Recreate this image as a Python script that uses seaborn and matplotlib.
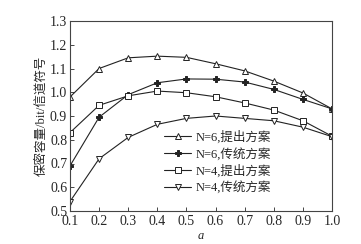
import seaborn as sns
import pandas as pd
import matplotlib.pyplot as plt

a = [0.1, 0.2, 0.3, 0.4, 0.5, 0.6, 0.7, 0.8, 0.9, 1.0]
n6_prop = [0.98, 1.10, 1.145, 1.152, 1.147, 1.12, 1.09, 1.047, 0.997, 0.93]
n6_trad = [0.69, 0.895, 0.99, 1.04, 1.056, 1.055, 1.043, 1.012, 0.97, 0.93]
n4_prop = [0.83, 0.945, 0.985, 1.005, 0.998, 0.981, 0.955, 0.925, 0.88, 0.815]
n4_trad = [0.54, 0.72, 0.81, 0.865, 0.89, 0.90, 0.89, 0.88, 0.853, 0.813]
labels = ['N=6,提出方案', 'N=6,传统方案', 'N=4,提出方案', 'N=4,传统方案']

sns.set_style('ticks')
plt.rcParams['font.family'] = ['Liberation Serif', 'Noto Sans CJK SC']
plt.rcParams['xtick.direction'] = 'in'
plt.rcParams['ytick.direction'] = 'in'

rows = []
for lab, vals in zip(labels, [n6_prop, n6_trad, n4_prop, n4_trad]):
    for x, y in zip(a, vals):
        rows.append({'a': x, 'cap': y, 'scheme': lab})
table = pd.DataFrame(rows)

fig = plt.figure(figsize=(3.61, 2.44), dpi=100)
ax = fig.add_axes([70 / 361, 33 / 244, 262 / 361, 190 / 244])

markers = dict(zip(labels, ['^', 'P', 's', 'v']))
sizes = {labels[0]: 5, labels[1]: 4, labels[2]: 5, labels[3]: 5}
for lab in labels:
    sub = table[table['scheme'] == lab]
    filled = lab == labels[1]
    sns.lineplot(data=sub, x='a', y='cap', ax=ax, color='#222222', lw=0.8,
                 marker=markers[lab], markersize=sizes[lab],
                 markerfacecolor='#222222' if filled else 'white',
                 markeredgecolor='#222222', markeredgewidth=0.7, label=lab)

ax.set_xlim(0.1, 1.0)
ax.set_ylim(0.5, 1.3)
ax.set_xticks(a)
ax.set_xticklabels(['%.1f' % v for v in a])
ax.set_yticks([0.5, 0.6, 0.7, 0.8, 0.9, 1.0, 1.1, 1.2, 1.3])
ax.tick_params(labelsize=10, length=3, width=0.6)
ax.tick_params(axis='x', pad=3)
ax.tick_params(axis='y', pad=2)
for s in ax.spines.values():
    s.set_linewidth(0.8)
    s.set_color('#444444')
ax.set_xlabel('a', fontsize=9, labelpad=1, style='italic')
ax.set_ylabel('保密容量/bit/信道符号', fontsize=9, labelpad=2)

leg = ax.legend(loc='lower left', bbox_to_anchor=(0.33, 0.05), frameon=False,
                fontsize=9, handlelength=2.2, handletextpad=0.3,
                labelspacing=0.3, borderpad=0.1)

fig.savefig('out.png', dpi=100)
